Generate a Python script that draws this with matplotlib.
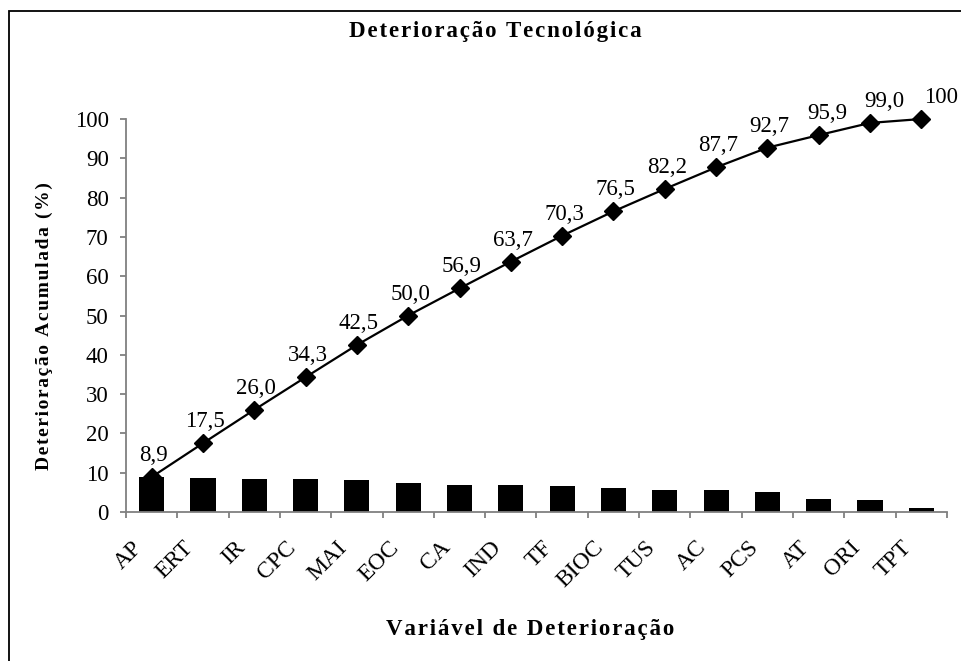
import numpy as np
import matplotlib.pyplot as plt
import matplotlib.transforms as mtransforms
from matplotlib.patches import Rectangle

# data
categorias = ['AP', 'ERT', 'IR', 'CPC', 'MAI', 'EOC', 'CA', 'IND', 'TF',
              'BIOC', 'TUS', 'AC', 'PCS', 'AT', 'ORI', 'TPT']
deterioracao = [8.9, 8.6, 8.5, 8.3, 8.2, 7.5, 6.9, 6.8, 6.6, 6.2, 5.7, 5.5, 5.0, 3.2, 3.1, 1.0]
acumulada = [8.9, 17.5, 26.0, 34.3, 42.5, 50.0, 56.9, 63.7, 70.3, 76.5,
             82.2, 87.7, 92.7, 95.9, 99.0, 100]
rotulos = ['8,9', '17,5', '26,0', '34,3', '42,5', '50,0', '56,9', '63,7', '70,3',
           '76,5', '82,2', '87,7', '92,7', '95,9', '99,0', '100']

plt.rcParams['font.family'] = 'Liberation Serif'


def espacado(txt):
    # titulos do excel com letras afastadas
    return '\u200a'.join(txt)


fig = plt.figure(figsize=(9.62, 6.61), dpi=100)
ax = fig.add_axes([126/962, 1 - 512/661, (947 - 126)/962, (512 - 119)/661])

# moldura da figura (so topo e esquerda visiveis)
fig.patches.append(Rectangle((9/962, -0.1), 1.2, 1.1 - 11/661, transform=fig.transFigure,
                             fill=False, edgecolor='black', linewidth=1.3))

x = np.arange(len(categorias))
ax.bar(x, deterioracao, 0.49, color='black', zorder=2)
ax.plot(x, acumulada, color='black', linewidth=1.6, marker='D', markersize=9.5, zorder=3,
        clip_on=False)
for i, (xi, yi, t) in enumerate(zip(x, acumulada, rotulos)):
    dx = 1.5 if i < len(x) - 3 else 6 + 4 * (i - len(x) + 3)
    ax.annotate(t, (xi, yi), xytext=(dx, 11.5), textcoords='offset points', ha='center',
                va='baseline', fontsize=16.5, annotation_clip=False)

ax.set_xlim(-0.5, len(categorias) - 0.5)
ax.set_ylim(0, 100)
ax.set_yticks(np.arange(0, 101, 10))

# ticks entre as categorias, rotulos no centro
ax.set_xticks(np.arange(-0.5, len(categorias), 1.0))
ax.set_xticklabels([])
ax.set_xticks(x, minor=True)
ax.set_xticklabels(categorias, minor=True, rotation=45, ha='right', va='top',
                   rotation_mode='anchor', fontsize=17)
ax.tick_params(axis='x', which='minor', length=0, pad=18)
ax.tick_params(axis='x', which='major', length=4.5, color='#808080', width=1.3, direction='out')
ax.tick_params(axis='y', length=4.5, color='#808080', width=1.3, labelsize=16.5, pad=8)
offset = mtransforms.ScaledTranslation(-20/100, 0, fig.dpi_scale_trans)
for lab in ax.xaxis.get_minorticklabels():
    lab.set_transform(lab.get_transform() + offset)

for s in ['top', 'right']:
    ax.spines[s].set_visible(False)
for s in ['left', 'bottom']:
    ax.spines[s].set_color('#808080')
    ax.spines[s].set_linewidth(1.3)

ax.set_ylabel(espacado('Deterioração Acumulada (%)'), fontsize=14, fontweight='bold')
ax.yaxis.set_label_coords(-(126 - 44)/(947 - 126), (512 - 326)/(512 - 119))
ax.set_xlabel(espacado('Variável de Deterioração'), fontsize=16.5, fontweight='bold')
ax.xaxis.set_label_coords((530 - 126)/(947 - 126), -(630 - 512)/(512 - 119))
ax.xaxis.label.set_va('center')
ax.yaxis.label.set_va('center')
fig.text(495/962, 1 - 32/661, espacado('Deterioração Tecnológica'), ha='center', va='center',
         fontsize=16.5, fontweight='bold')

fig.savefig('out.png', dpi=100)
